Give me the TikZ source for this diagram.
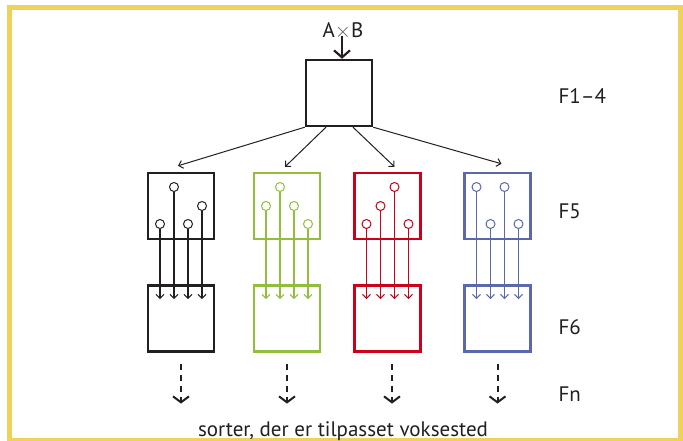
\documentclass[tikz,border=0pt]{standalone}
\usepackage{fontspec}
\setmainfont{PT Sans}
\usetikzlibrary{positioning, calc, arrows.meta}

\definecolor{frameyellow}{RGB}{238,210,90}
\definecolor{ink}{RGB}{35,31,32}
\definecolor{leafgreen}{RGB}{146,190,60}
\definecolor{rosered}{RGB}{204,0,24}
\definecolor{slateblue}{RGB}{92,104,172}

\begin{document}
\begin{tikzpicture}[x=1pt, y=-1pt, >={Straight Barb[length=4pt, width=8pt]},
        gen/.style={draw, line width=2.4pt, minimum size=66pt, inner sep=0pt},
        gene/.style={circle, draw, line width=1pt, minimum size=9pt, inner sep=0pt},
        split/.style={ink, line width=1pt, ->},
        onward/.style={ink, line width=2pt, dash pattern=on 6pt off 5pt,
            -{Straight Barb[length=6pt, width=16pt]}},
        tag/.style={anchor=west, font=\fontsize{21}{21}\selectfont, text=ink}]
    \useasboundingbox (0,0) rectangle (683,441);
    \draw[frameyellow, line width=5pt] (9.5,8) rectangle (680.5,440.5);

    % F1-4
    \node[gen, draw=ink] (top) at (339,93) {};
    \node[font=\fontsize{21}{21}\selectfont, text=ink, inner sep=0pt] (cross) at (343,31) {A{\color{ink!75}$\times$}B};
    \coordinate (feed) at (342,36);
    \draw[ink, line width=2.2pt, -{Straight Barb[length=7pt, width=16pt]}] (feed) -- (feed |- top.north);

    % F5 and F6, one column per colour
    \foreach \name/\col/\x/\lv in {k/ink/181/{18,-19,18,0}, g/leafgreen/287/{0,-19,0,18},
            r/rosered/387.5/{18,0,-19,18}, b/slateblue/497.5/{-19,18,-19,18}} {
        \node[gen, draw=\col] (\name5) at (\x,206) {};
        \node[gen, draw=\col, below=44pt of \name5] (\name6) {};
        \foreach \dy [count=\i] in \lv {
            \node[gene, draw=\col] (\name g\i) at ($(\name5)+(-35+14*\i,\dy)$) {};
            \draw[color=\col, line width=1.1pt, ->] (\name g\i) -- ($(\name g\i |- \name6.north)+(0,15)$);
        }
    }

    \draw[split] (top.south west) -- ([xshift=-3pt, yshift=6pt]k5.north);
    \draw[split] ([xshift=-13pt]top.south) -- ([xshift=-2pt, yshift=5pt]g5.north);
    \draw[split] ([xshift=14pt]top.south) -- ([xshift=7pt, yshift=5pt]r5.north);
    \draw[split] (top.south east) -- ([xshift=4pt, yshift=8pt]b5.north);

    % Fn
    \draw[onward] ([yshift=-11pt]k6.south) -- ++(0,40);
    \draw[onward] ([yshift=-11pt]g6.south) -- ++(0,40);
    \draw[onward] ([xshift=4.5pt, yshift=-11pt]r6.south) -- ++(0,40);
    \draw[onward] ([yshift=-11pt]b6.south) -- ++(0,40);

    \node[tag] (f14) at (555,96) {F1--4};
    \node[tag] (f5) at (555,211) {F5};
    \node[tag] (f6) at (555,327) {F6};
    \node[tag] (fn) at (555,394) {Fn};
    \node[anchor=base, inner sep=0pt, font=\fontsize{21}{21}\selectfont, text=ink] (site) at (343,436) {sorter, der er tilpasset voksested};
\end{tikzpicture}
\end{document}
